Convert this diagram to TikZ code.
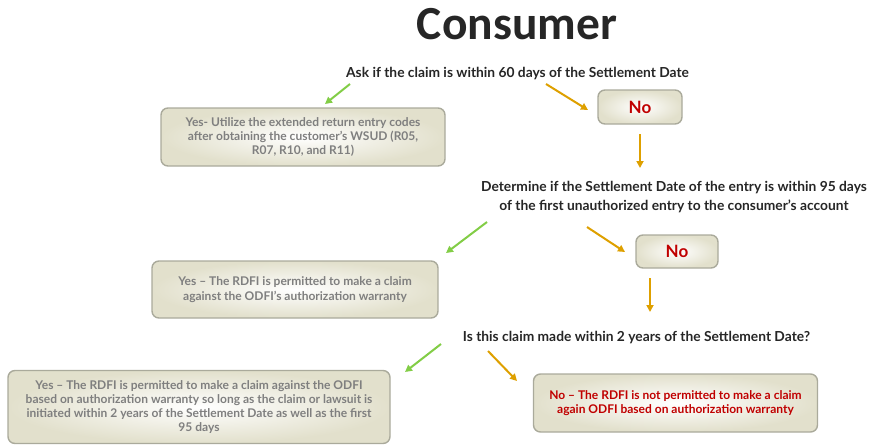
\documentclass[tikz,border=0pt]{standalone}
\usepackage{fontspec}
\setmainfont{Lato}
\newfontfamily\titlefont{Carlito}
\usetikzlibrary{arrows.meta}
\definecolor{qtext}{RGB}{38,38,38}
\definecolor{graytext}{RGB}{127,127,127}
\definecolor{redtext}{RGB}{192,0,0}
\definecolor{arrgreen}{RGB}{130,205,70}
\definecolor{arrorange}{RGB}{222,160,0}
\definecolor{boxedge}{RGB}{170,170,155}
\definecolor{boxout}{RGB}{226,224,204}
\tikzset{
  box/.style={draw=boxedge, line width=1.4pt, rounded corners=7pt, shading=radial,
    inner color=white, outer color=boxout, align=center, inner sep=2pt},
  yesbox/.style={box, text=graytext, font=\bfseries\fontsize{12}{14.3}\selectfont},
  nobox/.style={box, text=redtext, font=\bfseries\fontsize{17}{18}\selectfont},
  noboxtxt/.style={box, text=redtext, font=\bfseries\fontsize{12}{14.3}\selectfont},
  question/.style={text=qtext, font=\bfseries\fontsize{13.8}{19}\selectfont, align=center, inner sep=0pt},
  garrow/.style={draw=arrgreen, line width=2pt, -{Triangle[length=7pt,width=7pt]}},
  oarrow/.style={draw=arrorange, line width=2pt, -{Triangle[length=7pt,width=7pt]}}
}
\begin{document}
\begin{tikzpicture}[x=1pt,y=-1pt]
\useasboundingbox (0,0) rectangle (878,445);
% title
\node[anchor=base, text=qtext, font=\titlefont\bfseries\fontsize{47.5}{50}\selectfont, inner sep=0pt] (title) at (517,39.5) {Consumer};
% questions
\node[question, anchor=base] (q1) at (517.5,77) {Ask if the claim is within 60 days of the Settlement Date};
\node[question, anchor=north] (q2) at (674,181.5) {Determine if the Settlement Date of the entry is within 95 days\\of the first unauthorized entry to the consumer’s account};
\node[question, anchor=base] (q3) at (636.5,341) {Is this claim made within 2 years of the Settlement Date?};
% boxes
\node[yesbox, minimum width=284pt, minimum height=58pt] (yes1) at (303,137) {Yes- Utilize the extended return entry codes\\after obtaining the customer’s WSUD (R05,\\R07, R10, and R11)};
\node[nobox, minimum width=84pt, minimum height=34pt] (no1) at (640,107) {No};
\node[nobox, minimum width=82pt, minimum height=33pt] (no2) at (677,251.5) {No};
\node[yesbox, minimum width=286pt, minimum height=57pt] (yes2) at (295,289.5) {Yes – The RDFI is permitted to make a claim\\against the ODFI’s authorization warranty};
\node[yesbox, minimum width=382pt, minimum height=73pt] (yes3) at (199,407) {Yes – The RDFI is permitted to make a claim against the ODFI\\based on authorization warranty so long as the claim or lawsuit is\\initiated within 2 years of the Settlement Date as well as the first\\95 days};
\node[noboxtxt, minimum width=284pt, minimum height=58pt] (no3) at (675.5,403) {No – The RDFI is not permitted to make a claim\\again ODFI based on authorization warranty};
% arrow end points
\coordinate (g1s) at (350,84);  \coordinate (g1e) at (325,104);
\coordinate (o1s) at (546,84);  \coordinate (o1e) at (588,110);
\coordinate (d1s) at (640,134); \coordinate (d1e) at (640,168);
\coordinate (g2s) at (487,222); \coordinate (g2e) at (446,253);
\coordinate (o2s) at (587,227); \coordinate (o2e) at (625,252);
\coordinate (d2s) at (650,278); \coordinate (d2e) at (650,312);
\coordinate (g3s) at (441,344); \coordinate (g3e) at (405,372);
\coordinate (o3s) at (488,351); \coordinate (o3e) at (517,381);
\draw[garrow] (g1s) -- (g1e);
\draw[oarrow] (o1s) -- (o1e);
\draw[oarrow] (d1s) -- (d1e);
\draw[garrow] (g2s) -- (g2e);
\draw[oarrow] (o2s) -- (o2e);
\draw[oarrow] (d2s) -- (d2e);
\draw[garrow] (g3s) -- (g3e);
\draw[oarrow] (o3s) -- (o3e);
\end{tikzpicture}
\end{document}
